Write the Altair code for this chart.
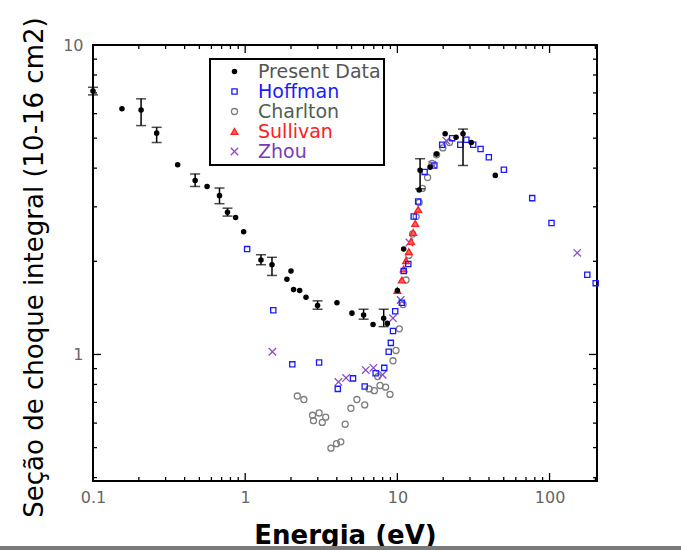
import altair as alt
import pandas as pd

# ---------------- data ----------------
present_E = [0.1, 0.155, 0.207, 0.262, 0.36, 0.469, 0.562, 0.678, 0.765, 0.865, 0.977,
             1.27, 1.50, 1.88, 2.0, 2.08, 2.28, 2.51, 2.99, 4.01, 5.03, 6.0, 6.92, 8.13,
             8.6, 10.0, 11.0, 13.9, 14.1, 16.4, 18.1, 20.6, 24.3, 27.0, 30.6, 44.0]
present_S = [7.1, 6.22, 6.17, 5.19, 4.10, 3.65, 3.49, 3.26, 2.88, 2.77, 2.49,
             2.02, 1.95, 1.75, 1.86, 1.62, 1.61, 1.53, 1.44, 1.47, 1.36, 1.34, 1.25, 1.31,
             1.26, 1.61, 2.19, 3.40, 3.94, 4.03, 4.44, 5.17, 5.03, 5.17, 4.84, 3.79]

err_E = [0.1, 0.207, 0.262, 0.469, 0.678, 0.765, 1.27, 1.50, 2.99, 6.0, 8.13, 14.1, 27.0]
err_lo = [6.9, 5.49, 4.84, 3.49, 3.07, 2.80, 1.95, 1.80, 1.40, 1.30, 1.23, 3.43, 4.08]
err_hi = [7.3, 6.70, 5.42, 3.83, 3.45, 2.97, 2.10, 2.06, 1.49, 1.40, 1.40, 4.29, 5.35]

hoffman_E = [1.03, 1.53, 2.04, 3.06, 4.06, 5.11, 6.1, 7.2, 8.2, 8.77, 9.06, 9.36, 9.68,
             10.7, 11.0, 11.8, 12.8, 13.7, 15.1, 17.5, 19.7, 22.9, 25.9, 28.4, 31.5, 35.2,
             39.9, 50.1, 76.9, 103, 177, 201]
hoffman_S = [2.19, 1.39, 0.929, 0.942, 0.774, 0.837, 0.788, 0.87, 0.905, 1.02, 1.09, 1.19, 1.38,
             1.47, 1.86, 1.96, 2.79, 3.12, 3.89, 4.08, 4.76, 5.0, 4.76, 4.94, 4.76, 4.61,
             4.34, 3.95, 3.2, 2.66, 1.81, 1.70]

charlton_E = [2.2, 2.43, 2.77, 3.06, 2.81, 3.21, 3.38, 3.66, 3.98, 4.25, 4.54, 4.95, 5.42,
              6.1, 6.52, 7.06, 7.69, 8.37, 8.94, 7.43, 9.36, 9.79, 10.3, 10.9, 11.4, 11.9,
              12.6, 13.3, 13.9, 14.6, 15.8, 16.9, 18.1, 19.9, 22.0]
charlton_S = [0.734, 0.715, 0.636, 0.647, 0.611, 0.603, 0.627, 0.498, 0.515, 0.522, 0.595,
              0.67, 0.715, 0.687, 0.774, 0.764, 0.794, 0.784, 0.743, 0.848, 0.954, 1.03,
              1.21, 1.45, 1.74, 2.09, 2.45, 2.79, 3.10, 3.44, 3.73, 4.14, 4.42, 4.65, 4.84]

sullivan_E = [10.0, 10.7, 11.0, 11.4, 11.9, 12.3, 12.7, 13.1, 13.7]
sullivan_S = [1.61, 1.74, 1.89, 2.01, 2.15, 2.32, 2.48, 2.65, 2.94]

zhou_E = [1.51, 4.1, 4.6, 6.2, 6.96, 8.0, 9.36, 10.5, 12.0, 17.0, 21.0, 152]
zhou_S = [1.02, 0.815, 0.84, 0.89, 0.905, 0.86, 1.31, 1.5, 2.3, 4.1, 4.9, 2.13]

series_names = ["Present Data", "Hoffman", "Charlton", "Sullivan", "Zhou"]
stroke_colors = ["black", "#1a1aff", "#7d7d7d", "#ff2020", "#8a4cc8"]
fill_colors = ["black", "transparent", "transparent", "#ff6060", "transparent"]
shapes = ["circle", "square", "circle", "triangle-up", "M-1,-1L1,1M1,-1L-1,1"]
sizes = [18, 55, 26, 20, 26]
label_colors = ["#555555", "#1a1aff", "#4f5f4f", "#ff2020", "#7a3ab8"]

x_major = [0.1, 1, 10, 100]
x_minor = [0.2, 0.3, 0.4, 0.5, 0.6, 0.7, 0.8, 0.9,
           2, 3, 4, 5, 6, 7, 8, 9,
           20, 30, 40, 50, 60, 70, 80, 90,
           200]
y_labels = [1, 10]
y_major = [1]
y_minor = [0.4, 0.5, 0.6, 0.7, 0.8, 0.9, 2, 3, 4, 5, 6, 7, 8, 9]

W, H = 504, 436

# ---------------- tables ----------------
frames = []
for name, E, S in [("Charlton", charlton_E, charlton_S), ("Zhou", zhou_E, zhou_S),
                   ("Sullivan", sullivan_E, sullivan_S), ("Hoffman", hoffman_E, hoffman_S),
                   ("Present Data", present_E, present_S)]:
    frames.append(pd.DataFrame({"E": E, "S": S, "series": name}))
pts = pd.concat(frames, ignore_index=True)
errs = pd.DataFrame({"E": err_E, "lo": err_lo, "hi": err_hi})

xscale = alt.Scale(type="log", domain=[0.1, 205], nice=False)
yscale = alt.Scale(type="log", domain=[0.39, 10], nice=False)

label_expr = ("datum.label == 'Hoffman' ? '%s' : datum.label == 'Charlton' ? '%s' : "
              "datum.label == 'Sullivan' ? '%s' : datum.label == 'Zhou' ? '%s' : '%s'") % (
    label_colors[1], label_colors[2], label_colors[3], label_colors[4], label_colors[0])

legend = alt.Legend(title=None, orient="none", legendX=117, legendY=14, padding=3,
                    symbolOffset=12, labelFont="DejaVu Sans", labelFontSize=19,
                    labelOffset=14, rowPadding=0, strokeColor="black", fillColor="white",
                    labelColor=alt.ExprRef(label_expr), symbolStrokeWidth=1.3, labelLimit=300)

x_axis = alt.Axis(values=x_major, format="~g", labelFont="DejaVu Sans", labelFontSize=16,
                  labelColor="#666666", ticks=False, tickSize=0, domain=False, grid=False,
                  labelPadding=8, labelFlush=False, title="Energia (eV)",
                  titleFont="DejaVu Sans", titleFontSize=26, titleFontWeight="bold",
                  titleColor="black", titleX=252, titleY=62, titleBaseline="alphabetic")
y_axis = alt.Axis(values=y_labels, format="~g", labelFont="DejaVu Sans", labelFontSize=16,
                  labelColor="#666666", ticks=False, tickSize=0, domain=False, grid=False,
                  labelPadding=10, title="Seção de choque integral (10-16 cm2)",
                  titleFont="DejaVu Sans", titleFontSize=26, titleFontWeight="normal",
                  titleColor="black", titleAngle=270, titleX=-46, titleY=222,
                  titleBaseline="bottom", titleAlign="center")

dom = series_names
points = alt.Chart(pts).mark_point(strokeWidth=1.3, opacity=1).encode(
    x=alt.X("E:Q", scale=xscale, axis=x_axis),
    y=alt.Y("S:Q", scale=yscale, axis=y_axis),
    shape=alt.Shape("series:N", scale=alt.Scale(domain=dom, range=shapes), legend=legend),
    stroke=alt.Stroke("series:N", scale=alt.Scale(domain=dom, range=stroke_colors), legend=legend),
    fill=alt.Fill("series:N", scale=alt.Scale(domain=dom, range=fill_colors), legend=legend),
    size=alt.Size("series:N", scale=alt.Scale(domain=dom, range=sizes), legend=legend),
)

bars = alt.Chart(errs).mark_rule(color="black", strokeWidth=1.5).encode(
    x=alt.X("E:Q", scale=xscale, axis=x_axis),
    y=alt.Y("lo:Q", scale=yscale, axis=y_axis),
    y2="hi:Q",
)
cap_lo = alt.Chart(errs).mark_tick(color="black", orient="horizontal", size=10, thickness=1.5).encode(
    x=alt.X("E:Q", scale=xscale, axis=x_axis),
    y=alt.Y("lo:Q", scale=yscale, axis=y_axis),
)
cap_hi = alt.Chart(errs).mark_tick(color="black", orient="horizontal", size=10, thickness=1.5).encode(
    x=alt.X("E:Q", scale=xscale, axis=x_axis),
    y=alt.Y("hi:Q", scale=yscale, axis=y_axis),
)

xt_major = pd.DataFrame({"E": x_major})
xt_minor = pd.DataFrame({"E": x_minor})
yt_major = pd.DataFrame({"S": y_major})
yt_minor = pd.DataFrame({"S": y_minor})


def xticks(df, length):
    base = alt.Chart(df)
    bottom = base.mark_rule(color="black", strokeWidth=1.3).encode(
        x=alt.X("E:Q", scale=xscale, axis=x_axis), y=alt.value(H), y2=alt.value(H - length))
    top = base.mark_rule(color="black", strokeWidth=1.3).encode(
        x=alt.X("E:Q", scale=xscale, axis=x_axis), y=alt.value(0), y2=alt.value(length))
    return [bottom, top]


def yticks(df, length):
    base = alt.Chart(df)
    left = base.mark_rule(color="black", strokeWidth=1.3).encode(
        y=alt.Y("S:Q", scale=yscale, axis=y_axis), x=alt.value(0), x2=alt.value(length))
    right = base.mark_rule(color="black", strokeWidth=1.3).encode(
        y=alt.Y("S:Q", scale=yscale, axis=y_axis), x=alt.value(W), x2=alt.value(W - length))
    return [left, right]


tick_layers = xticks(xt_major, 8) + xticks(xt_minor, 4) + yticks(yt_major, 8) + yticks(yt_minor, 4)

page_line = alt.Chart(xt_major).mark_rule(color="#7a7a7a", strokeWidth=4).encode(
    x=alt.value(-93), x2=alt.value(W + 84), y=alt.value(H + 67))

chart = alt.layer(points, bars, cap_lo, cap_hi, *tick_layers, page_line).properties(
    width=W, height=H,
    autosize=alt.AutoSizeParams(type="none"),
    padding={"left": 93, "top": 45, "right": 84, "bottom": 69},
    background="white",
).configure_view(stroke="black", strokeWidth=2).configure_legend(strokeWidth=2)

chart.save("out.html", embed_options={"renderer": "svg", "actions": False})
